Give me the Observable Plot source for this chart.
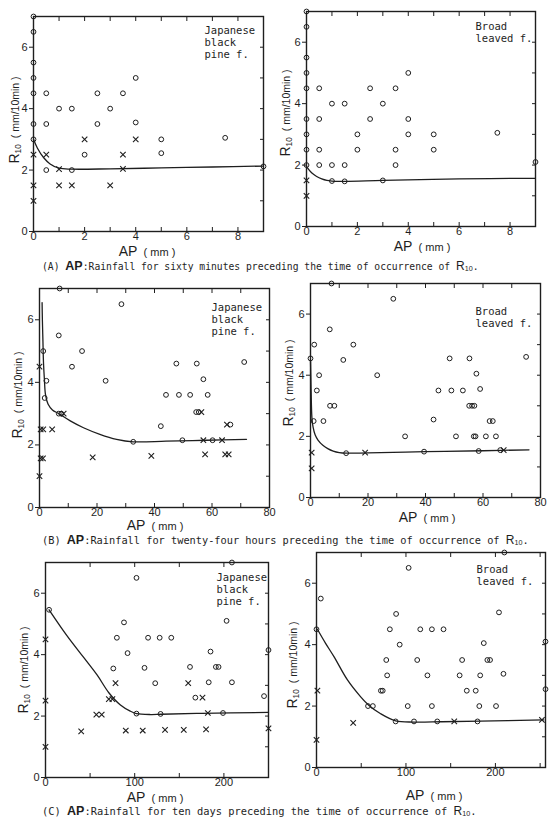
<!DOCTYPE html>
<html><head><meta charset="utf-8">
<script src="https://cdn.jsdelivr.net/npm/d3@7"></script>
<script src="https://cdn.jsdelivr.net/npm/@observablehq/plot@0.6"></script>
<style>
body{margin:0;background:#fff;}
#fig{position:relative;width:556px;height:817px;overflow:hidden;font-family:"Liberation Sans",Arial,sans-serif;color:#1e1e1e;}
.panel{position:absolute;}
.ylab{position:absolute;white-space:nowrap;line-height:1;font-size:10.5px;transform:translate(-50%,-50%) rotate(-90deg);}
.xlab{position:absolute;white-space:nowrap;line-height:1;font-size:11px;transform:translate(-50%,-50%);}
.cap{position:absolute;white-space:nowrap;line-height:1;transform:translateY(-50%);font-family:"DejaVu Sans Mono",monospace;}
.cap b{font-family:"Liberation Sans",Arial,sans-serif;font-size:12.5px;}
.cap .r{font-family:"Liberation Sans",Arial,sans-serif;font-size:12px;}
sub{font-size:60%;vertical-align:-0.25em;line-height:1;}
</style></head><body><div id="fig"></div><script>
// ---- data ----
const yMajor = [0, 2, 4, 6];
const yMinor = [1, 2, 3, 4, 5, 6];
const xMajorA = [0, 2, 4, 6, 8], xMinorA = [1, 2, 3, 4, 5, 6, 7, 8];
const xMajorB = [0, 20, 40, 60, 80], xMinorB = [10, 20, 30, 40, 50, 60, 70];
const xMajorC = [0, 100, 200], xMinorCL = [50, 100, 150, 200], xMinorCR = [50, 100, 150, 200, 250];

const aPineCircles = [[0,7],[0,6.5],[0,5.5],[0,5],[0,4.5],[0,3.5],[0,3],[0.5,4.5],[0.5,3.5],[0.5,2],[1,4],[1.5,4],[1.5,2],[2,2.5],[2.5,4.5],[2.5,3.5],[3,4],[3.5,4.5],[4,5],[4,3.55],[5,3],[5,2.55],[7.5,3.05],[9,2.12]];
const aPineCrosses = [[0,2.5],[0,1.5],[0,1],[0.5,2.5],[1,1.5],[1.5,1.5],[2,3],[3,1.5],[3.5,2.5],[4,3],[1,2.03],[3.5,2.04]];
const aPineCurve = [[0,3.0],[0.15,2.72],[0.4,2.4],[0.65,2.2],[1,2.06],[1.5,2.03],[3,2.04],[5,2.07],[7,2.1],[9,2.13]];

const aBroadCircles = [[0,7],[0,6.5],[0,5.5],[0,5],[0,4.5],[0,3.5],[0,3],[0,2.5],[0,2],[0.5,4.5],[0.5,3.5],[0.5,2.5],[0.5,2],[1,4],[1,2],[1,1.48],[1.5,4],[1.5,2],[1.5,1.47],[2,3],[2,2.5],[2.5,4.5],[2.5,3.5],[3,4],[3,1.5],[3.5,4.5],[3.5,2.5],[3.5,2],[4,5],[4,3.5],[4,3],[5,3],[5,2.5],[7.5,3.05],[9,2.1]];
const aBroadCrosses = [[0,1.5],[0,1]];
const aBroadCurve = [[0,1.95],[0.2,1.75],[0.4,1.63],[0.6,1.55],[0.8,1.5],[1,1.48],[1.5,1.47],[3,1.5],[6,1.55],[9,1.57]];

const bPineCircles = [[7,7],[28.5,6.5],[6.7,5.5],[1.3,5],[14.8,5],[11.3,4.5],[23,4.05],[2.4,4.05],[1.8,3.5],[6.7,3],[7.6,3],[42.2,2.6],[44,3.6],[47.6,4.6],[48.5,3.6],[52.4,3.6],[54.7,4.6],[57,4.1],[58.5,3.6],[54.5,3.05],[55.4,3.05],[66.4,2.65],[71.2,4.65],[32.6,2.1],[49.7,2.15],[60.2,2.15]];
const bPineCrosses = [[0,4.5],[0.4,2.5],[1.3,2.5],[4.4,2.5],[0.4,1.57],[1.2,1.57],[0,1],[18.5,1.6],[38.9,1.65],[57.6,1.7],[64.6,1.7],[65.8,1.7],[8.4,3],[56.3,3.05],[57,2.15],[63.5,2.15],[65.2,2.65]];
const bPineCurve = [[0.9,6.55],[1.0,6.0],[1.2,5.3],[1.4,4.6],[1.7,4.1],[2.1,3.6],[3,3.3],[4.5,3.12],[6.7,3.0],[10.7,2.77],[15.3,2.55],[21,2.34],[26.8,2.18],[32.6,2.1],[44,2.12],[58,2.15],[72,2.18]];

const bBroadCircles = [[7.3,7],[28.8,6.5],[6.7,5.5],[1.3,5],[14.9,5],[11.4,4.5],[0,4.55],[3,4],[2.2,3.5],[23.2,4],[6.8,3],[8.3,3],[1.1,2.5],[4.5,2.5],[32.9,2],[42.8,2.55],[44.5,3.5],[48.4,4.55],[49,3.5],[50.6,2],[53,3.5],[55.3,4.55],[57.7,4.05],[59,3.55],[55.2,3],[56.2,3],[57,3],[56.8,2],[57.4,2],[61,2],[62.3,2.5],[63.4,2.5],[64.5,2],[75,4.6],[12.4,1.45],[39.5,1.5],[58.5,1.52],[66,1.55]];
const bBroadCrosses = [[0.4,1.47],[0.4,0.95],[19,1.47],[67.2,1.55]];
const bBroadCurve = [[0,4.5],[0.15,3.8],[0.3,3.1],[0.5,2.6],[0.9,2.3],[1.6,2.05],[2.6,1.88],[4.4,1.7],[6,1.6],[7.9,1.52],[10,1.47],[12.4,1.45],[20,1.46],[40,1.5],[60,1.53],[76,1.56]];

const cPineCircles = [[209,7],[102,6.5],[4,5.46],[88,5.05],[203,5.1],[80,4.55],[115,4.55],[128,4.55],[141,4.55],[92,4.05],[185,4.1],[76,3.55],[111,3.57],[162,3.6],[191,3.6],[194,3.6],[123,3.07],[183,3.1],[209,3.1],[168,2.6],[245,2.65],[250,4.15],[102,2.08],[129,2.07],[199,2.1]];
const cPineCrosses = [[0,4.5],[0,2.5],[0,1],[40,1.5],[57,2.05],[63,2.05],[78.5,3.07],[71,2.55],[75,2.55],[90,1.53],[109,1.53],[134,1.55],[155,1.55],[160,3.07],[176,2.6],[180,1.57],[182,2.1],[250,1.6]];
const cPineCurve = [[4,5.46],[24,4.62],[43,3.9],[58,3.33],[71,2.76],[84,2.36],[95,2.16],[102,2.08],[118,2.05],[130,2.06],[175,2.09],[250,2.12]];

const cBroadCircles = [[210,7],[103,6.5],[4.8,5.5],[0,4.5],[89,5],[204,5.05],[82,4.5],[116,4.5],[129,4.5],[142,4.5],[93,4],[187,4.05],[78,3.5],[112.6,3.5],[162.8,3.5],[191,3.5],[194,3.5],[79,3],[124,3],[160,3],[183,3],[209,3.05],[72,2.5],[74,2.5],[168,2.5],[178,2.5],[256,2.55],[256,4.1],[57.6,2],[63,2],[102,2],[129,2],[182,2],[200.7,2],[88.5,1.5],[109,1.5],[135,1.5],[180,1.5]];
const cBroadCrosses = [[1,2.5],[0,0.9],[41,1.45],[154,1.5],[252,1.55]];
const cBroadCurve = [[1,4.5],[10,4.05],[19.7,3.6],[34.6,2.85],[49.4,2.3],[58.7,2.02],[71.7,1.75],[88.5,1.52],[109,1.48],[140,1.49],[183,1.51],[254,1.55]];

const pineNote = "Japanese\nblack\npine f.";
const broadNote = "Broad\nleaved f.";

// ---- layout ----
const ink = "#1e1e1e";
const panels = [
  {circles: aPineCircles, crosses: aPineCrosses, curve: aPineCurve, xd: [0, 9], xM: xMajorA, xm: xMinorA, l: 33, r: 263, t: 16, b: 231, note: pineNote, ndx: -59, ndy: 9},
  {circles: aBroadCircles, crosses: aBroadCrosses, curve: aBroadCurve, xd: [0, 9], xM: xMajorA, xm: xMinorA, l: 306, r: 535, t: 11, b: 226, note: broadNote, ndx: -60, ndy: 10},
  {circles: bPineCircles, crosses: bPineCrosses, curve: bPineCurve, xd: [0, 80], xM: xMajorB, xm: xMinorB, l: 39, r: 269, t: 288, b: 507, note: pineNote, ndx: -58, ndy: 14},
  {circles: bBroadCircles, crosses: bBroadCrosses, curve: bBroadCurve, xd: [0, 80], xM: xMajorB, xm: xMinorB, l: 310, r: 540, t: 283, b: 497, note: broadNote, ndx: -65, ndy: 23},
  {circles: cPineCircles, crosses: cPineCrosses, curve: cPineCurve, xd: [0, 250], xM: xMajorC, xm: xMinorCL, l: 45, r: 268, t: 562, b: 777, note: pineNote, ndx: -52, ndy: 10},
  {circles: cBroadCircles, crosses: cBroadCrosses, curve: cBroadCurve, xd: [0, 256], xM: xMajorC, xm: xMinorCR, l: 316, r: 545, t: 552, b: 767, note: broadNote, ndx: -69, ndy: 12}
];

const fig = document.getElementById("fig");
const mL = 30, mR = 10, mT = 8, mB = 22;
const X = d => d[0], Y = d => d[1];

for (const p of panels) {
  const chart = Plot.plot({
    width: p.r - p.l + mL + mR,
    height: p.b - p.t + mT + mB,
    marginLeft: mL, marginRight: mR, marginTop: mT, marginBottom: mB,
    style: {fontFamily: "Liberation Sans, Arial, sans-serif", fontSize: "11px", color: ink, background: "transparent", overflow: "visible"},
    x: {domain: p.xd},
    y: {domain: [0, 7]},
    marks: [
      Plot.axisY({ticks: yMajor, tickSize: 4, tickPadding: 2, tickFormat: d => String(d), label: null, stroke: ink, fontSize: 11}),
      Plot.axisY({anchor: "right", ticks: yMinor, tickSize: -4, tickFormat: () => "", label: null, stroke: ink}),
      Plot.axisX({ticks: p.xm, tickSize: -4, tickFormat: () => "", label: null, stroke: ink}),
      Plot.axisX({ticks: p.xM, tickSize: 0, tickPadding: 1, tickFormat: d => String(d), label: null, fontSize: 11}),
      Plot.axisX({anchor: "top", ticks: p.xm, tickSize: -4, tickFormat: () => "", label: null, stroke: ink}),
      Plot.frame({stroke: ink, strokeWidth: 1.4}),
      Plot.line(p.curve, {x: X, y: Y, curve: "catmull-rom", stroke: ink, strokeWidth: 1.3}),
      Plot.dot(p.circles, {x: X, y: Y, r: 2.4, stroke: ink, strokeWidth: 1, fill: "none"}),
      Plot.dot(p.crosses, {x: X, y: Y, symbol: "times", r: 2.6, stroke: ink, strokeWidth: 1.1}),
      Plot.text([p.note], {frameAnchor: "top-right", textAnchor: "start", lineAnchor: "top", dx: p.ndx, dy: p.ndy, fontFamily: "DejaVu Sans Mono, monospace", fontSize: 10.5, lineHeight: 1.15, fill: ink})
    ]
  });
  chart.classList.add("panel");
  chart.style.left = (p.l - mL) + "px";
  chart.style.top = (p.t - mT) + "px";
  fig.appendChild(chart);
}

// axis titles and captions
const yLabPos = [[15, 120], [286, 113], [18, 395], [289, 383], [24, 670], [293, 665]];
const xLabPos = [[147, 251], [422, 246], [155, 525], [427, 517], [155, 797], [434, 795]];
for (const [x, y] of yLabPos) {
  const d = document.createElement("div");
  d.className = "ylab";
  d.style.left = x + "px"; d.style.top = y + "px";
  d.innerHTML = '<span style="font-size:14px">R<sub>10</sub></span>&nbsp;&nbsp;<span>( mm/10min )</span>';
  fig.appendChild(d);
}
for (const [x, y] of xLabPos) {
  const d = document.createElement("div");
  d.className = "xlab";
  d.style.left = x + "px"; d.style.top = y + "px";
  d.innerHTML = '<span style="font-size:14px">AP</span>&nbsp;&nbsp;<span>( mm )</span>';
  fig.appendChild(d);
}
const captions = [
  {x: 42, y: 266, size: 9.7, tag: "(A) ", text: ":Rainfall for sixty minutes preceding the time of occurrence of "},
  {x: 42, y: 539.5, size: 10.3, tag: "(B) ", text: ":Rainfall for twenty-four hours preceding the time of occurrence of "},
  {x: 42, y: 810.5, size: 10.4, tag: "(C) ", text: ":Rainfall for ten days preceding the time of occurrence of "}
];
for (const c of captions) {
  const d = document.createElement("div");
  d.className = "cap";
  d.style.left = c.x + "px"; d.style.top = c.y + "px"; d.style.fontSize = c.size + "px";
  d.innerHTML = c.tag + "<b>AP</b>" + c.text + '<span class="r">R<sub>10</sub></span>.';
  fig.appendChild(d);
}
</script></body></html>
